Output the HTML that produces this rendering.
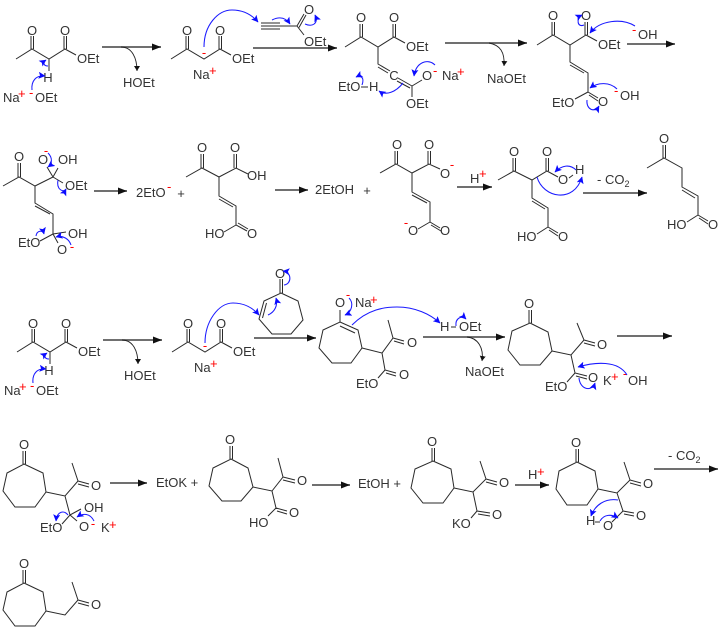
<!DOCTYPE html>
<html><head><meta charset="utf-8"><style>
html,body{margin:0;padding:0;background:#fff}
svg{display:block}
text{font-family:"Liberation Sans",sans-serif;font-size:13px;fill:#333}
.r{fill:#f00;font-size:13px}
.m{text-anchor:middle}
.b{fill:none;stroke:#2a2a2a;stroke-width:1}
.a{fill:none;stroke:#5c5c5c;stroke-width:1.7}
.c{fill:none;stroke:#222;stroke-width:.9}
.u{fill:none;stroke:#1a1aff;stroke-width:1.05}
</style></head><body>
<svg width="723" height="629" viewBox="0 0 723 629" xmlns="http://www.w3.org/2000/svg">
<defs>
<marker id="k" markerUnits="userSpaceOnUse" markerWidth="12" markerHeight="8" refX="9" refY="4" orient="auto"><path d="M0,0.5L9,4L0,7.500z" fill="#111"/></marker>
<marker id="s" markerUnits="userSpaceOnUse" markerWidth="8" markerHeight="8" refX="5" refY="3" orient="auto"><path d="M0,0L5,3L0,6z" fill="#111"/></marker>
<marker id="h" markerUnits="userSpaceOnUse" markerWidth="9" markerHeight="8" refX="6.500" refY="3.500" orient="auto"><path d="M0,0L7,3.500L0,7L1.500,3.500z" fill="#0c0cff"/></marker>
</defs>

<!-- ROW 1 shared layout -->
<g>
<path class="b" d="M16,59L32,49L49,59L65,49L76,55M49,59V71M31,49V36M33.500,49V36M64,49V36M66.500,49V36"/>
<text x="32" y="35" class="m">O</text><text x="65" y="35" class="m">O</text>
<text x="77" y="63">OEt</text><text x="48" y="82" class="m">H</text>
<text x="3" y="102">Na</text><text x="18" y="98" class="r">+</text><text x="29" y="97" class="r">-</text><text x="35" y="102">OEt</text>
<path class="u" marker-end="url(#h)" d="M32,90C31,81 36,75 45,76"/>
<path class="u" marker-end="url(#h)" d="M48,66C43,66 43,62 46,60"/>
<path class="a" marker-end="url(#k)" d="M102,47H161"/>
<path class="c" marker-end="url(#s)" d="M121,47C132,47 137,58 137,71"/>
<text x="123" y="87">HOEt</text>
<path class="b" d="M171,59L187,49L204,59L220,49L231,55M186,49V36M188.500,49V36M219,49V36M221.500,49V36"/>
<text x="187" y="35" class="m">O</text><text x="220" y="35" class="m">O</text>
<text x="232" y="63">OEt</text><text x="193" y="79">Na</text><text x="209" y="75" class="r">+</text>
<text x="204" y="57" class="r m">-</text>
</g>
<path class="u" marker-end="url(#h)" d="M204,47C204,25 218,10 232,10C244,10 252,15 258,22"/>
<path class="b" d="M261,23H280M261,26H297M261,29H280M297,26L304,35M297,26L304,14M299,27.500L306,15"/>
<text x="309" y="14" class="m">O</text><text x="304" y="46">OEt</text>
<path class="u" marker-end="url(#h)" d="M272,20C280,16 286,18 290,24"/>
<path class="u" marker-end="url(#h)" d="M305,24C312,27 319,24 315,15"/>
<path class="a" marker-end="url(#k)" d="M253,48H337"/>

<!-- structure 3 -->
<path class="b" d="M345,47L361,37L378,47L394,37L405,43M360,37V24M362.500,37V24M393,37V24M395.500,37V24M378,47V64L390,71M378,67L388,73M398,78L412,86M397,81L410,88M412,86L422,80M412,86V97"/>
<text x="361" y="22" class="m">O</text><text x="394" y="22" class="m">O</text><text x="406" y="51">OEt</text>
<text x="394" y="80" class="m">C</text><text x="427" y="80" class="m">O</text><text x="433" y="75" class="r">-</text>
<text x="442" y="80">Na</text><text x="457" y="76" class="r">+</text><text x="406" y="108">OEt</text>
<text x="338" y="91">EtO</text><text x="369" y="91">H</text>
<path class="b" d="M361,87H368"/>
<path class="u" marker-end="url(#h)" d="M403,83C396,92 386,96 379,91"/>
<path class="u" marker-end="url(#h)" d="M435,65C428,58 416,62 414,76"/>
<path class="u" marker-end="url(#h)" d="M362,85C365,77 360,75 356,77"/>
<path class="a" marker-end="url(#k)" d="M445,43H527"/>
<path class="c" marker-end="url(#s)" d="M489,43C500,45 505,52 504,66"/>
<text x="487" y="83">NaOEt</text>

<!-- structure 4 -->
<path class="b" d="M537,45L553,35L570,45L586,35L597,41M552,35V22M554.500,35V22M585,35V22M587.500,35V22M570,45V62L588,73V92L598,98M589,95L598,101M570,65L584,73M588,92L575,99"/>
<text x="553" y="20" class="m">O</text><text x="586" y="20" class="m">O</text><text x="598" y="49">OEt</text>
<text x="603" y="106" class="m">O</text><text x="552" y="107">EtO</text><text x="620" y="100">OH</text><text x="614" y="95" class="r">-</text>
<text x="638" y="39">OH</text><text x="632" y="34" class="r">-</text>
<path class="u" marker-end="url(#h)" d="M635,26C622,18 600,20 590,33"/>
<path class="u" marker-end="url(#h)" d="M584,25C577,28 576,18 582,15"/>
<path class="u" marker-end="url(#h)" d="M617,89C610,82 598,82 590,88"/>
<path class="u" marker-end="url(#h)" d="M587,100C586,110 595,113 599,106"/>
<path class="a" marker-end="url(#k)" d="M627,44H675"/>

<!-- ROW 2 structure 5 -->
<path class="b" d="M3,186L19,177L35,186L53,177M18,177V163M20.500,177V163M35,186V203L53,214V234M35,206L50,214M53,177L47,167M53,177L58,168M53,177L63,183M53,234L40,241M53,234L66,232M53,234L58,243"/>
<text x="19" y="161" class="m">O</text><text x="43" y="164" class="m">O</text><text x="58" y="164">OH</text><text x="65" y="190">OEt</text>
<text x="46" y="155" class="r m">-</text><text x="18" y="247">EtO</text><text x="68" y="238">OH</text><text x="62" y="254" class="m">O</text><text x="72" y="251" class="r m">-</text>
<path class="u" marker-end="url(#h)" d="M48,153C53,158 52,164 48,167"/>
<path class="u" marker-end="url(#h)" d="M58,180C56,190 64,193 66,189"/>
<path class="u" marker-end="url(#h)" d="M36,236C37,230 43,230 44,234"/>
<path class="u" marker-end="url(#h)" d="M71,245C69,239 63,235 56,237"/>
<path class="a" marker-end="url(#k)" d="M94,191H127"/>
<text x="136" y="197">2EtO</text><text x="167" y="191" class="r">-</text><text x="181" y="198" class="m">+</text>

<!-- structure 6 -->
<path class="b" d="M186,177L202,168L219,177L236,168L248,174M201,168V154M203.500,168V154M234,168V154M236.500,168V154M219,177V196L236,206V225L247,231M238,223L248,229M219,199L233,207M236,225L224,232"/>
<text x="202" y="152" class="m">O</text><text x="235" y="152" class="m">O</text><text x="247" y="180">OH</text><text x="205" y="238">HO</text><text x="252" y="238" class="m">O</text>
<path class="a" marker-end="url(#k)" d="M275,190H308"/>
<text x="315" y="194">2EtOH</text><text x="367" y="195" class="m">+</text>

<!-- structure 7 -->
<path class="b" d="M380,173L396,164L412,173L429,164L440,169M395,164V151M397.500,164V151M428,164V151M430.500,164V151M412,173V192L430,202V222L440,228M431,225L441,231M412,195L427,203M430,222L418,229"/>
<text x="397" y="149" class="m">O</text><text x="429" y="149" class="m">O</text><text x="445" y="178" class="m">O</text><text x="452" y="169" class="r m">-</text>
<text x="413" y="235" class="m">O</text><text x="406" y="227" class="r m">-</text><text x="445" y="235" class="m">O</text>
<path class="a" marker-end="url(#k)" d="M457,187H492"/>
<text x="470" y="183">H</text><text x="479" y="178" class="r">+</text>

<!-- structure 8 -->
<path class="b" d="M498,180L514,171L532,180L547,171L558,177M513,171V158M515.500,171V158M546,171V158M548.500,171V158M532,180V198L548,208V227L558,233M549,230L558,236M532,201L545,209M548,227L537,234M569,178L573,175"/>
<text x="514" y="156" class="m">O</text><text x="547" y="156" class="m">O</text><text x="563" y="184" class="m">O</text><text x="575" y="174">H</text>
<text x="517" y="241">HO</text><text x="563" y="241" class="m">O</text>
<path class="u" marker-end="url(#h)" d="M537,177C543,198 574,204 582,177"/>
<path class="u" marker-end="url(#h)" d="M576,170C570,164 562,165 555,172"/>
<path class="a" marker-end="url(#k)" d="M583,193H647"/>
<text x="597" y="184">- CO<tspan font-size="9" dy="3">2</tspan></text>

<!-- structure 9 -->
<path class="b" d="M647,168L664,158L682,168V187L698,196V215L708,221M699,218L708,224M682,190L695,198M663,158V145M665.500,158V145M698,215L687,222"/>
<text x="664" y="143" class="m">O</text><text x="667" y="229">HO</text><text x="713" y="229" class="m">O</text>

<!-- ROW 3 shared -->
<g transform="translate(1,293)">
<path class="b" d="M16,59L32,49L49,59L65,49L76,55M49,59V71M31,49V36M33.500,49V36M64,49V36M66.500,49V36"/>
<text x="32" y="35" class="m">O</text><text x="65" y="35" class="m">O</text>
<text x="77" y="63">OEt</text><text x="48" y="82" class="m">H</text>
<text x="3" y="102">Na</text><text x="18" y="98" class="r">+</text><text x="29" y="97" class="r">-</text><text x="35" y="102">OEt</text>
<path class="u" marker-end="url(#h)" d="M32,90C31,81 36,75 45,76"/>
<path class="u" marker-end="url(#h)" d="M48,66C43,66 43,62 46,60"/>
<path class="a" marker-end="url(#k)" d="M102,47H161"/>
<path class="c" marker-end="url(#s)" d="M121,47C132,47 137,58 137,71"/>
<text x="123" y="87">HOEt</text>
<path class="b" d="M171,59L187,49L204,59L220,49L231,55M186,49V36M188.500,49V36M219,49V36M221.500,49V36"/>
<text x="187" y="35" class="m">O</text><text x="220" y="35" class="m">O</text>
<text x="232" y="63">OEt</text><text x="193" y="79">Na</text><text x="209" y="75" class="r">+</text>
<text x="204" y="57" class="r m">-</text>
</g>
<path class="u" marker-end="url(#h)" d="M205,343C205,322 218,303 233,303C244,303 253,308 259,315"/>
<path class="b" d="M281,293L298,301L303,320L291,334H272L259,319L264,301ZM262.500,318L266.500,303M280,293V279M282.500,293V279"/>
<text x="280" y="278" class="m">O</text>
<path class="u" marker-end="url(#h)" d="M268,315C275,312 278,305 276,298"/>
<path class="u" marker-end="url(#h)" d="M284,285C292,284 292,272 283,271"/>
<path class="a" marker-end="url(#k)" d="M254,338H316"/>

<!-- structure 10 -->
<path class="b" d="M340,322L358,330L362,348L351,363H332L319,348L323,330ZM340,326L355,333M340,322V310M362,348L382,353L393,338L388,320M393,338L404,341M394,341L404,344M382,353L385,370L396,373M386,373L396,376M385,370L378,378"/>
<text x="340" y="307" class="m">O</text><text x="348" y="299" class="r m">-</text><text x="355" y="307">Na</text><text x="370" y="304" class="r">+</text>
<text x="412" y="347" class="m">O</text><text x="404" y="379" class="m">O</text><text x="356" y="388">EtO</text>
<path class="u" marker-end="url(#h)" d="M349,298C354,303 352,312 345,315"/>
<path class="u" marker-end="url(#h)" d="M352,325C368,309 385,307 397,307C415,307 430,314 440,323"/>
<text x="440" y="331">H</text><text x="459" y="331">OEt</text>
<path class="b" d="M451,327H456"/>
<path class="u" marker-end="url(#h)" d="M456,326C455,318 462,315 466,319"/>
<path class="a" marker-end="url(#k)" d="M423,337H505"/>
<path class="c" marker-end="url(#s)" d="M467,337C478,338 484,348 482,361"/>
<text x="465" y="376">NaOEt</text>

<!-- structure 11 -->
<path class="b" d="M530,323L548,332L552,351L540,365H520L508,350L512,331ZM529,323V310M531.500,323V310M552,351L571,355L584,340L577,323M584,340L595,343M584,343L595,346M571,355L575,373L587,376M576,376L587,379M575,373L567,382"/>
<text x="529" y="308" class="m">O</text><text x="602" y="349" class="m">O</text><text x="593" y="382" class="m">O</text><text x="545" y="391">EtO</text>
<text x="603" y="385">K</text><text x="611" y="381" class="r">+</text><text x="625" y="378" class="r m">-</text><text x="628" y="385">OH</text>
<path class="u" marker-end="url(#h)" d="M627,375C618,360 595,362 578,367"/>
<path class="u" marker-end="url(#h)" d="M579,378C580,390 592,392 595,383"/>
<path class="a" marker-end="url(#k)" d="M617,336H672"/>

<!-- ROW 4 structure 12 -->
<path class="b" d="M24,464L43,473L46,492L35,507H15L3,491L7,473ZM23,464V451M25.500,464V451M46,492L65,496L78,481L72,463M78,481L89,484M78,484L89,487M65,496L70,515L81,509M70,515L77,521M70,515L62,524"/>
<text x="24" y="449" class="m">O</text><text x="96" y="490" class="m">O</text><text x="84" y="512">OH</text>
<text x="84" y="531" class="m">O</text><text x="93" y="528" class="r m">-</text><text x="40" y="532">EtO</text>
<text x="101" y="532">K</text><text x="109" y="529" class="r">+</text>
<path class="u" marker-end="url(#h)" d="M94,521C90,513 83,513 77,517"/>
<path class="u" marker-end="url(#h)" d="M68,515C64,510 57,511 56,521"/>
<path class="a" marker-end="url(#k)" d="M110,483H147"/>
<text x="156" y="487">EtOK +</text>

<!-- structure 13 -->
<path class="b" d="M231,459L248,468L253,487L241,501H222L209,486L213,468ZM230,459V446M232.500,459V446M253,487L272,491L283,477L278,458M283,477L295,480M283,480L295,483M272,491L276,508L287,511M277,511L287,514M276,508L268,516"/>
<text x="230" y="444" class="m">O</text><text x="302" y="485" class="m">O</text><text x="294" y="517" class="m">O</text><text x="249" y="527">HO</text>
<path class="a" marker-end="url(#k)" d="M312,485H350"/>
<text x="358" y="488">EtOH +</text>

<!-- structure 14 -->
<path class="b" d="M433,461L451,469L454,488L443,503H423L411,488L415,469ZM432,461V448M434.500,461V448M454,488L473,492L486,479L480,461M486,479L497,482M486,482L497,485M473,492L477,511L490,513M478,514L490,516M477,511L471,518"/>
<text x="432" y="446" class="m">O</text><text x="504" y="487" class="m">O</text><text x="497" y="519" class="m">O</text><text x="452" y="528">KO</text>
<path class="a" marker-end="url(#k)" d="M515,485H549"/>
<text x="528" y="479">H</text><text x="537" y="476" class="r">+</text>

<!-- structure 15 -->
<path class="b" d="M577,462L595,471L598,489L587,505H567L556,489L559,471ZM576,462V449M578.500,462V449M598,489L617,493L630,480L624,462M630,480L641,483M630,483L641,486M617,493L623,511L634,513M624,514L634,516M623,511L615,519L612,522M595,522H600"/>
<text x="576" y="447" class="m">O</text><text x="648" y="488" class="m">O</text><text x="641" y="520" class="m">O</text><text x="608" y="530" class="m">O</text><text x="586" y="525">H</text>
<path class="u" marker-end="url(#h)" d="M618,500C605,498 595,505 591,516"/>
<path class="u" marker-end="url(#h)" d="M600,521C604,514 612,514 618,518"/>
<path class="a" marker-end="url(#k)" d="M654,469H718"/>
<text x="668" y="460">- CO<tspan font-size="9" dy="3">2</tspan></text>

<!-- structure 16 -->
<path class="b" d="M24,583L43,592L46,611L35,626H15L3,610L7,592ZM23,583V570M25.500,583V570M46,611L65,615L78,600L72,582M78,600L89,603M78,603L89,606"/>
<text x="24" y="568" class="m">O</text><text x="96" y="609" class="m">O</text>
</svg>
</body></html>
